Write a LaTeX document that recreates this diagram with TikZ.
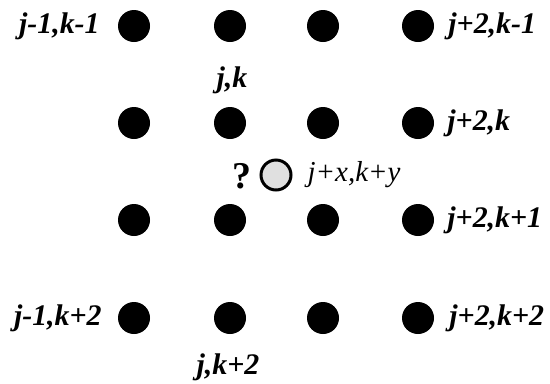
\documentclass[tikz,border=0pt]{standalone}
\usepackage{fontspec}
\setmainfont{Liberation Serif}
\begin{document}
\begin{tikzpicture}[x=1bp,y=-1bp,
  dot/.style={circle,fill=black,minimum size=32bp,inner sep=0pt},
  qdot/.style={circle,draw=black,line width=3bp,fill=black!12,minimum size=30bp,inner sep=0pt},
  lab/.style={inner sep=0pt,font=\fontsize{30}{30}\selectfont\bfseries\itshape},
  plab/.style={inner sep=0pt,font=\fontsize{29}{29}\selectfont\itshape},
  qlab/.style={inner sep=0pt,font=\fontsize{38}{38}\selectfont\bfseries}]
\useasboundingbox (0,0) rectangle (550,383);
% grid of dots
\foreach \r/\y in {1/26,2/123,3/220,4/318}{
  \foreach \c/\x in {1/134,2/230,3/323,4/418}{
    \node[dot] (d\r\c) at (\x,\y) {};
  }
}
\node[qdot] (p) at (276,175) {};
% labels
\node[lab,anchor=east] (l11) at ([xshift=-18bp]d11.west) {j-1,k-1};
\node[lab,anchor=west] (l14) at ([xshift=14bp]d14.east) {j+2,k-1};
\node[lab] (l12) at (232,80) {j,k};
\node[lab,anchor=west] (l24) at ([xshift=13bp]d24.east) {j+2,k};
\node[lab,anchor=west] (l34) at ([xshift=13bp]d34.east) {j+2,k+1};
\node[lab,anchor=east] (l41) at ([xshift=-16bp]d41.west) {j-1,k+2};
\node[lab,anchor=west] (l44) at ([xshift=15bp]d44.east) {j+2,k+2};
\node[lab] (l42) at (228,367) {j,k+2};
\node[qlab] (q) at (242,176) {?};
\node[plab,anchor=west] (lp) at ([xshift=15bp]p.east) {j+x,k+y};
\end{tikzpicture}
\end{document}
